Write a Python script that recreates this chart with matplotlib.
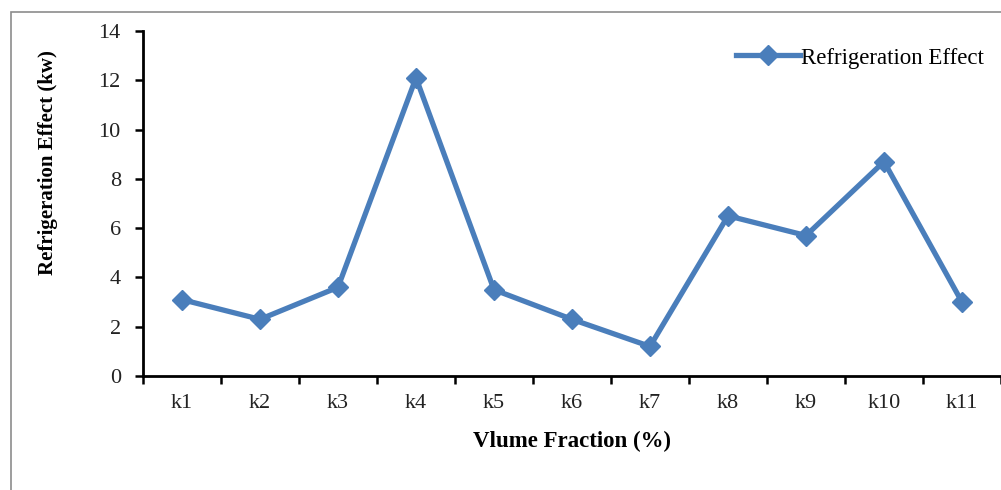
import matplotlib.pyplot as plt
from matplotlib.patches import Rectangle

categories = ["k1", "k2", "k3", "k4", "k5", "k6", "k7", "k8", "k9", "k10", "k11"]
refrigeration_effect = [3.1, 2.3, 3.6, 12.1, 3.5, 2.3, 1.2, 6.5, 5.7, 8.7, 3.0]

plt.rcParams['font.family'] = ['Liberation Serif', 'DejaVu Serif']

fig = plt.figure(figsize=(10.01, 4.90), dpi=100)

# chart area frame
fig.patches.append(Rectangle((11/1001, -0.1), 1.2, (490-12)/490 + 0.1,
                             transform=fig.transFigure, fill=False,
                             edgecolor='#8c8c8c', linewidth=1.2))

ax = fig.add_axes([143/1001, 114/490, 858/1001, 345/490])

x = list(range(len(categories)))
ax.plot(x, refrigeration_effect, color='#4A7EBB', linewidth=3.8,
        marker='D', markersize=10, label='Refrigeration Effect')

ax.set_xlim(-0.5, len(categories) - 0.5)
ax.set_ylim(0, 14)
ax.set_yticks(range(0, 15, 2))
ax.set_xticks(x)
ax.set_xticklabels(categories)
ax.set_xticks([i - 0.5 for i in range(len(categories) + 1)], minor=True)
ax.tick_params(axis='x', which='major', length=0, pad=13, labelsize=16, colors='#222222')
ax.tick_params(axis='x', which='minor', length=6, width=1.8, direction='out')
ax.tick_params(axis='y', length=6, width=1.8, direction='out', labelsize=16,
               pad=10, labelcolor='#222222')

for side in ['top', 'right']:
    ax.spines[side].set_visible(False)
for side in ['left', 'bottom']:
    ax.spines[side].set_linewidth(2)

ax.set_xlabel("Vlume Fraction (%)", fontsize=16.5, fontweight='bold', va='center')
ax.set_ylabel("Refrigeration Effect (kw)", fontsize=15, fontweight='bold', va='center')
ax.xaxis.set_label_coords(0.5, -0.191)
ax.yaxis.set_label_coords(-0.111, 0.62)

ax.legend(loc='center right', bbox_to_anchor=(0.98, (376 - 58) / 345), frameon=False,
          fontsize=16.5, handlelength=2.8, handletextpad=0.05, borderpad=0, borderaxespad=0)

fig.savefig("out.png", dpi=100)
